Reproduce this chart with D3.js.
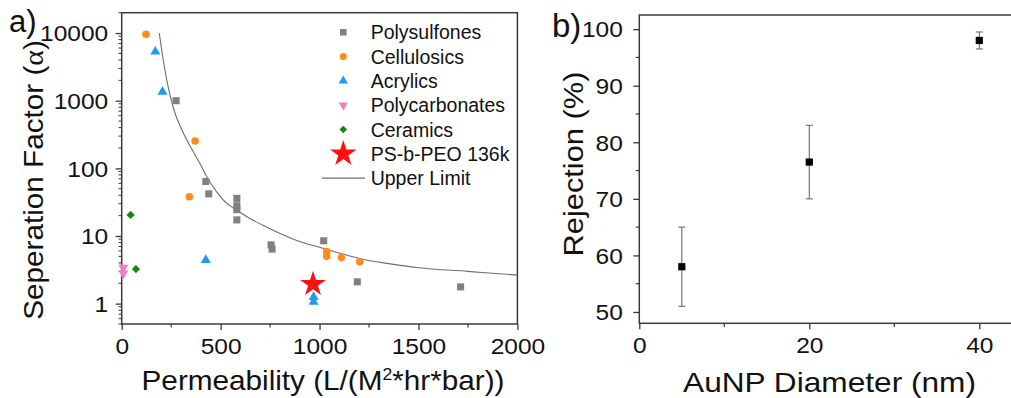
<!DOCTYPE html>
<html>
<head>
<meta charset="utf-8">
<script src="https://cdn.jsdelivr.net/npm/d3@7"></script>
<style>
  html, body { margin: 0; padding: 0; background: #fff; }
  svg { display: block; font-family: "Liberation Sans", Arial, sans-serif; }
</style>
</head>
<body>
<svg id="fig" width="1011" height="398"></svg>
<script>
// ---- Panel a: separation factor vs permeability ----
const polysulfones = [[275, 1000], [425, 64], [440, 42], [582, 36], [582, 28], [582, 24.5], [582, 17.3],
  [755, 7.4], [760, 6.4], [1021, 8.5], [1191, 2.1], [1713, 1.77]];
const cellulosics = [[123, 9600], [371, 254], [342, 38], [1036, 5.9], [1036, 5.0], [1110, 4.8], [1203, 4.15]];
const acrylics = [[170, 5300], [206, 1350], [425, 4.4], [970, 1.25], [970, 1.06]];
const polycarbonates = [[8, 3.4], [8, 2.8]];
const ceramics = [[45, 20.5], [72, 3.25]];
const psbpeo = [[967, 1.94]];
const upperLimit = [[190, 10000], [210, 4000], [228, 2000], [260, 800], [312, 330], [360, 180], [396, 117],
  [430, 75], [480, 45], [514, 34], [582, 24], [650, 18], [734, 13.5], [830, 10], [903, 8.2], [1000, 6.8],
  [1100, 5.6], [1207, 4.6], [1350, 3.9], [1500, 3.4], [1747, 3.0], [2000, 2.64]];

const xTicksA = [0, 500, 1000, 1500, 2000];
const yTicksA = [1, 10, 100, 1000, 10000];

// ---- Panel b: rejection vs AuNP diameter ----
const diameter = [5, 20, 40];
const rejection = [58, 76.5, 98];
const rejectionLow = [51, 70, 96.5];
const rejectionHigh = [65, 83, 99.5];
const xTicksB = [0, 20, 40];
const yTicksB = [50, 60, 70, 80, 90, 100];

const svg = d3.select("#fig");
const frameColor = "#3a3a3a";
const tickFont = 21.5, tickStretch = 1.14;

// series styling
const seriesA = [
  { name: "Polysulfones", data: polysulfones, color: "#808080", symbol: d3.symbolSquare, size: 50 },
  { name: "Cellulosics", data: cellulosics, color: "#ff8c1a", symbol: d3.symbolCircle, size: 46 },
  { name: "Acrylics", data: acrylics, color: "#1e9cf0", symbol: d3.symbolTriangle, size: 44 },
  { name: "Polycarbonates", data: polycarbonates, color: "#f47fc0", symbol: d3.symbolTriangle, size: 44, rot: 180 },
  { name: "Ceramics", data: ceramics, color: "#128a12", symbol: d3.symbolSquare, size: 34, rot: 45 },
  { name: "PS-b-PEO 136k", data: psbpeo, color: "#ff1010", symbol: d3.symbolStar, size: 205 }
];

// ===== Panel a =====
const xA = d3.scaleLinear().domain([0, 2000]).range([121.7, 517.4]);
const yA = d3.scaleLog().domain([0.5, 20000]).range([324, 12.7]);

const gA = svg.append("g");

// minor ticks
const minorX = d3.range(250, 2000, 500);
gA.selectAll(".mx").data(minorX).join("line")
  .attr("x1", d => xA(d)).attr("x2", d => xA(d))
  .attr("y1", 324).attr("y2", 327.5)
  .attr("stroke", frameColor).attr("stroke-width", 1.2);
const minorY = yA.ticks().filter(v => !yTicksA.includes(v) && v >= 0.5);
gA.selectAll(".my").data(minorY).join("line")
  .attr("x1", 121.7).attr("x2", 118.5)
  .attr("y1", d => yA(d)).attr("y2", d => yA(d))
  .attr("stroke", frameColor).attr("stroke-width", 1);

// major axes
const axBottomA = gA.append("g").attr("transform", "translate(0,324)")
  .call(d3.axisBottom(xA).tickValues(xTicksA).tickSize(6).tickFormat(d3.format("d")));
const axLeftA = gA.append("g").attr("transform", "translate(121.7,0)")
  .call(d3.axisLeft(yA).tickValues(yTicksA).tickSize(6).tickFormat(d3.format("d")));

// frame
gA.append("rect").attr("x", 121.7).attr("y", 12.7).attr("width", 517.4 - 121.7).attr("height", 324 - 12.7)
  .attr("fill", "none").attr("stroke", frameColor).attr("stroke-width", 1.5);

// upper limit curve
const clipA = svg.append("clipPath").attr("id", "clipA");
clipA.append("rect").attr("x", 121.7).attr("y", 12.7).attr("width", 517.4 - 121.7).attr("height", 324 - 12.7);
gA.append("path").datum(upperLimit)
  .attr("clip-path", "url(#clipA)")
  .attr("d", d3.line().x(d => xA(d[0])).y(d => yA(d[1])).curve(d3.curveMonotoneX))
  .attr("fill", "none").attr("stroke", "#6e6e6e").attr("stroke-width", 1.1);

// markers
seriesA.forEach(s => {
  gA.append("g").selectAll("path").data(s.data).join("path")
    .attr("d", d3.symbol(s.symbol, s.size))
    .attr("transform", d => `translate(${xA(d[0])},${yA(d[1])})` + (s.rot ? ` rotate(${s.rot})` : ""))
    .attr("fill", s.color);
});

// legend
const legend = gA.append("g");
seriesA.concat([{ name: "Upper Limit", line: true }]).forEach((s, i) => {
  const cy = 32.3 + i * 24.3;
  if (s.line) {
    legend.append("line").attr("x1", 322).attr("x2", 365).attr("y1", cy).attr("y2", cy)
      .attr("stroke", "#6e6e6e").attr("stroke-width", 1.1);
  } else {
    legend.append("path")
      .attr("d", d3.symbol(s.symbol, s.symbol === d3.symbolStar ? 215 : s.size * 0.85))
      .attr("transform", `translate(343.3,${cy})` + (s.rot ? ` rotate(${s.rot})` : ""))
      .attr("fill", s.color);
  }
  legend.append("text").attr("x", 370.7).attr("y", cy + 7)
    .attr("font-size", 19.5).attr("fill", "#111").text(s.name);
});

// ===== Panel b =====
const xB = d3.scaleLinear().domain([0, 45]).range([639.3, 1021.8]);
const yB = d3.scaleLinear().domain([48, 102.5]).range([323.3, 15]);
const gB = svg.append("g");

gB.selectAll(".mx").data([10, 30]).join("line")
  .attr("x1", d => xB(d)).attr("x2", d => xB(d)).attr("y1", 323.3).attr("y2", 327)
  .attr("stroke", frameColor).attr("stroke-width", 1.2);
gB.selectAll(".my").data([55, 65, 75, 85, 95]).join("line")
  .attr("x1", 639.3).attr("x2", 635.8).attr("y1", d => yB(d)).attr("y2", d => yB(d))
  .attr("stroke", frameColor).attr("stroke-width", 1.2);

const axBottomB = gB.append("g").attr("transform", "translate(0,323.3)")
  .call(d3.axisBottom(xB).tickValues(xTicksB).tickSize(6).tickFormat(d3.format("d")));
const axLeftB = gB.append("g").attr("transform", "translate(639.3,0)")
  .call(d3.axisLeft(yB).tickValues(yTicksB).tickSize(6).tickFormat(d3.format("d")));

gB.append("rect").attr("x", 639.3).attr("y", 15).attr("width", 1021.8 - 639.3).attr("height", 323.3 - 15)
  .attr("fill", "none").attr("stroke", frameColor).attr("stroke-width", 1.5);

// error bars
diameter.forEach((d, i) => {
  const x = xB(d);
  const g = gB.append("g").attr("stroke", "#6a6a6a").attr("stroke-width", 1.1);
  g.append("line").attr("x1", x).attr("x2", x).attr("y1", yB(rejectionLow[i])).attr("y2", yB(rejectionHigh[i]));
  g.append("line").attr("x1", x - 3.5).attr("x2", x + 3.5).attr("y1", yB(rejectionLow[i])).attr("y2", yB(rejectionLow[i]));
  g.append("line").attr("x1", x - 3.5).attr("x2", x + 3.5).attr("y1", yB(rejectionHigh[i])).attr("y2", yB(rejectionHigh[i]));
  gB.append("path").attr("d", d3.symbol(d3.symbolSquare, 52))
    .attr("transform", `translate(${x},${yB(rejection[i])})`).attr("fill", "#000");
});

// ===== shared axis styling =====
[axBottomA, axLeftA, axBottomB, axLeftB].forEach(ax => {
  ax.select(".domain").remove();
  ax.selectAll(".tick line").attr("stroke", frameColor).attr("stroke-width", 1.3);
  ax.selectAll(".tick text").attr("font-size", tickFont).attr("fill", "#111")
    .attr("font-family", "Liberation Sans, Arial, sans-serif");
});
[axBottomA, axBottomB].forEach(ax => {
  ax.selectAll(".tick text").attr("y", 0).attr("dy", 0)
    .attr("transform", `translate(0,29.5) scale(${tickStretch},1)`);
});
[axLeftA, axLeftB].forEach((ax, k) => {
  ax.selectAll(".tick text").attr("x", 0).attr("dy", "0.36em")
    .attr("transform", `translate(${k === 0 ? -13.5 : -16.5},0) scale(${tickStretch},1)`);
});

// ===== titles and panel letters =====
function title(x, y, rot, size, stretch) {
  return svg.append("text")
    .attr("transform", `translate(${x},${y}) rotate(${rot}) scale(${stretch},1)`)
    .attr("text-anchor", "middle").attr("font-size", size).attr("fill", "#111");
}
const tx = title(323, 389.5, 0, 27, 1.1);
tx.append("tspan").text("Permeability (L/(M");
tx.append("tspan").attr("font-size", 16).attr("dy", -10).text("2");
tx.append("tspan").attr("dy", 10).text("*hr*bar))");

const ty = title(43, 180, -90, 27, 1.1);
ty.append("tspan").text("Seperation Factor (");
ty.append("tspan").attr("font-family", "Liberation Serif, Times New Roman, serif").text("α");
ty.append("tspan").text(")");

title(829.5, 391.5, 0, 28, 1.13).text("AuNP Diameter (nm)");
title(583, 164, -90, 28, 1.1).text("Rejection (%)");

svg.append("text").attr("x", 9).attr("y", 31.7).attr("font-size", 31).attr("fill", "#111").text("a)");
svg.append("text").attr("x", 552).attr("y", 36.7).attr("font-size", 33).attr("fill", "#111").text("b)");
</script>
</body>
</html>
